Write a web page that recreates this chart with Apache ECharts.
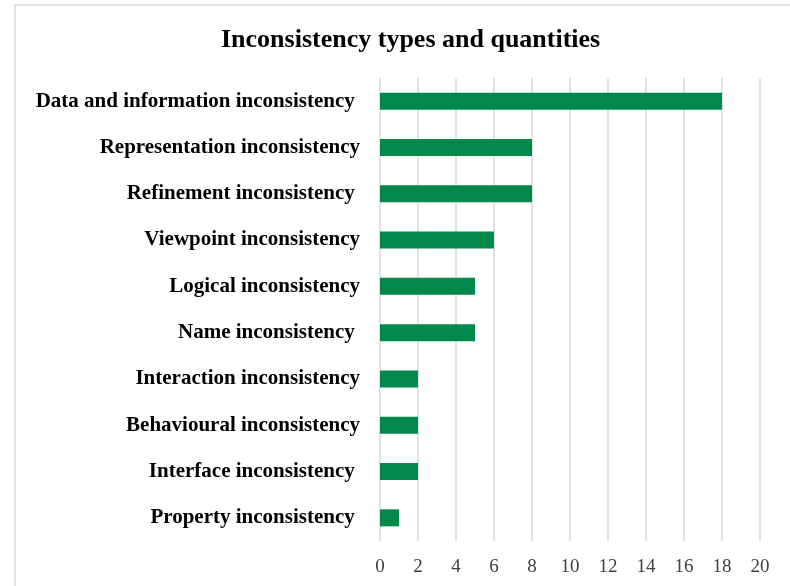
<!DOCTYPE html>
<html><head><meta charset="utf-8">
<script src="https://cdn.jsdelivr.net/npm/echarts@6/dist/echarts.min.js"></script>
<style>html,body{margin:0;padding:0;background:#fff}#c{width:790px;height:586px}</style>
</head><body><div id="c"></div>
<script>
const categories = [
  "Data and information inconsistency ",
  "Representation inconsistency",
  "Refinement inconsistency ",
  "Viewpoint inconsistency",
  "Logical inconsistency",
  "Name inconsistency ",
  "Interaction inconsistency",
  "Behavioural inconsistency",
  "Interface inconsistency ",
  "Property inconsistency "
];
const values = [18, 8, 8, 6, 5, 5, 2, 2, 2, 1];
const xTicks = [0, 2, 4, 6, 8, 10, 12, 14, 16, 18, 20];

const chart = echarts.init(document.getElementById('c'));
chart.setOption({
  animation: false,
  backgroundColor: '#fff',
  graphic: [{
    type: 'rect', shape: {x: 15, y: 5, width: 800, height: 600},
    style: {fill: 'none', stroke: '#d9d9d9', lineWidth: 1.5}, silent: true
  }],
  title: {
    text: 'Inconsistency types and quantities', left: 216, top: 22,
    textStyle: {fontFamily: 'Liberation Serif', fontWeight: 'bold', fontSize: 26, color: '#000'}
  },
  grid: {left: 380, right: 30, top: 78, bottom: 45, containLabel: false},
  xAxis: {
    type: 'value', min: xTicks[0], max: xTicks[xTicks.length - 1], interval: 2,
    axisLine: {show: false}, axisTick: {show: false},
    splitLine: {show: true, lineStyle: {color: '#d9d9d9', width: 1.5}},
    axisLabel: {margin: 17, fontFamily: 'Liberation Serif', fontSize: 19, color: '#404040'}
  },
  yAxis: {
    type: 'category', data: categories, inverse: true,
    axisLine: {show: false}, axisTick: {show: false},
    axisLabel: {margin: 20, fontFamily: 'Liberation Serif', fontWeight: 'bold', fontSize: 21, color: '#000'}
  },
  series: [{
    type: 'bar', data: values, barWidth: 17,
    itemStyle: {color: '#00894b'}
  }]
});
</script></body></html>
